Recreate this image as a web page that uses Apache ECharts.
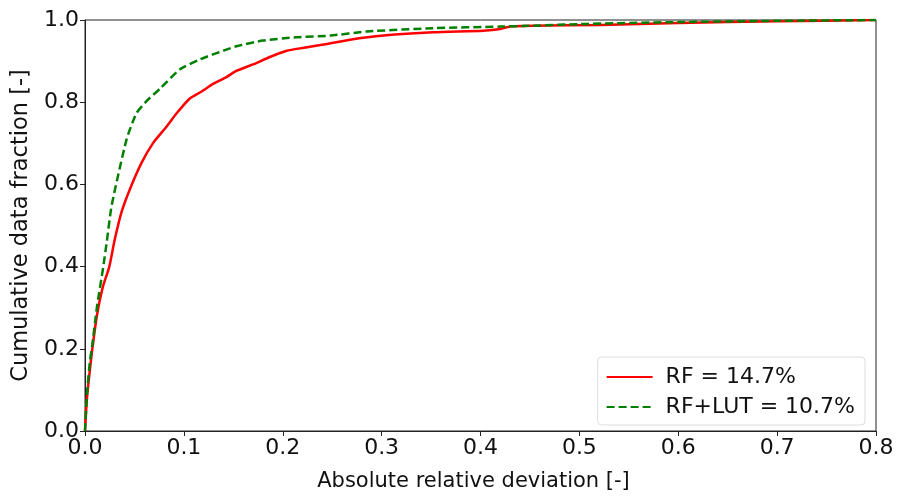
<!DOCTYPE html>
<html><head><meta charset="utf-8">
<script src="https://cdn.jsdelivr.net/npm/echarts@6/dist/echarts.min.js"></script>
<style>html,body{margin:0;padding:0;background:#fff}#c{width:899px;height:497px}</style>
</head><body><div id="c"></div>
<script>
const rfX = [0, 0.002, 0.005, 0.0074, 0.012, 0.018, 0.0246, 0.03, 0.037, 0.0455, 0.0573, 0.069, 0.0826, 0.0927, 0.106, 0.118, 0.130, 0.143, 0.153, 0.170, 0.187, 0.204, 0.220, 0.238, 0.268, 0.302, 0.352, 0.403, 0.420, 0.430, 0.453, 0.521, 0.6, 0.7, 0.8];
const rfY = [0, 0.08, 0.15, 0.20, 0.28, 0.35, 0.40, 0.465, 0.533, 0.589, 0.653, 0.701, 0.741, 0.773, 0.809, 0.826, 0.845, 0.861, 0.876, 0.892, 0.910, 0.925, 0.932, 0.939, 0.952, 0.962, 0.970, 0.974, 0.978, 0.984, 0.986, 0.988, 0.993, 0.997, 1.0];
const lutX = [0, 0.002, 0.005, 0.0074, 0.012, 0.0185, 0.022, 0.027, 0.042, 0.052, 0.0624, 0.0759, 0.096, 0.116, 0.143, 0.153, 0.180, 0.214, 0.248, 0.285, 0.352, 0.420, 0.453, 0.5, 0.6, 0.7, 0.8];
const lutY = [0, 0.09, 0.17, 0.21, 0.30, 0.40, 0.46, 0.549, 0.709, 0.773, 0.803, 0.833, 0.880, 0.904, 0.928, 0.936, 0.950, 0.958, 0.962, 0.972, 0.980, 0.984, 0.986, 0.990, 0.995, 0.998, 1.0];
const seriesNames = ['RF = 14.7%', 'RF+LUT = 10.7%'];
const xTitle = 'Absolute relative deviation [-]';
const yTitle = 'Cumulative data fraction [-]';

const zip = (xs, ys) => xs.map((x, i) => [x, ys[i]]);
const font = 'DejaVu Sans';
const ink = '#111';
const chart = echarts.init(document.getElementById('c'));
chart.setOption({
  animation: false,
  grid: { left: 85, right: 23, top: 20, bottom: 59, show: true, borderColor: '#222', borderWidth: 1 },
  xAxis: {
    type: 'value', min: 0, max: 0.8, interval: 0.1,
    name: xTitle, nameLocation: 'middle', nameGap: 40,
    nameTextStyle: { fontFamily: font, fontSize: 21, color: ink, padding: [0, 14, 0, 0] },
    axisLine: { show: true, lineStyle: { color: '#222' } },
    axisTick: { show: true, length: 5, lineStyle: { color: '#222' } },
    axisLabel: { fontFamily: font, fontSize: 22, color: ink, margin: 6, formatter: v => v.toFixed(1) },
    splitLine: { show: false }
  },
  yAxis: {
    type: 'value', min: 0, max: 1, interval: 0.2,
    name: yTitle, nameLocation: 'middle', nameGap: 41,
    nameTextStyle: { fontFamily: font, fontSize: 22.5, color: ink },
    axisLine: { show: true, lineStyle: { color: '#222' } },
    axisTick: { show: true, length: 5, lineStyle: { color: '#222' } },
    axisLabel: { fontFamily: font, fontSize: 22, color: ink, margin: 6, formatter: v => v.toFixed(1) },
    splitLine: { show: false }
  },
  legend: {
    orient: 'vertical', right: 34, bottom: 72,
    backgroundColor: '#fff', borderColor: '#ddd', borderWidth: 1, borderRadius: 4,
    padding: [9, 10, 7, 8], itemGap: 8, itemWidth: 46, itemHeight: 14,
    itemStyle: { opacity: 0 },
    textStyle: { fontFamily: font, fontSize: 22, color: ink, padding: [0, 0, 0, 8] },
    data: seriesNames
  },
  series: [
    { name: seriesNames[0], type: 'line', data: zip(rfX, rfY), symbol: 'none', smooth: 0.2,
      lineStyle: { color: '#ff0000', width: 2.5 }, itemStyle: { color: '#ff0000' } },
    { name: seriesNames[1], type: 'line', data: zip(lutX, lutY), symbol: 'none', smooth: 0.2,
      lineStyle: { color: '#008000', width: 2.5, type: [8, 4] }, itemStyle: { color: '#008000' } }
  ]
});
</script></body></html>
